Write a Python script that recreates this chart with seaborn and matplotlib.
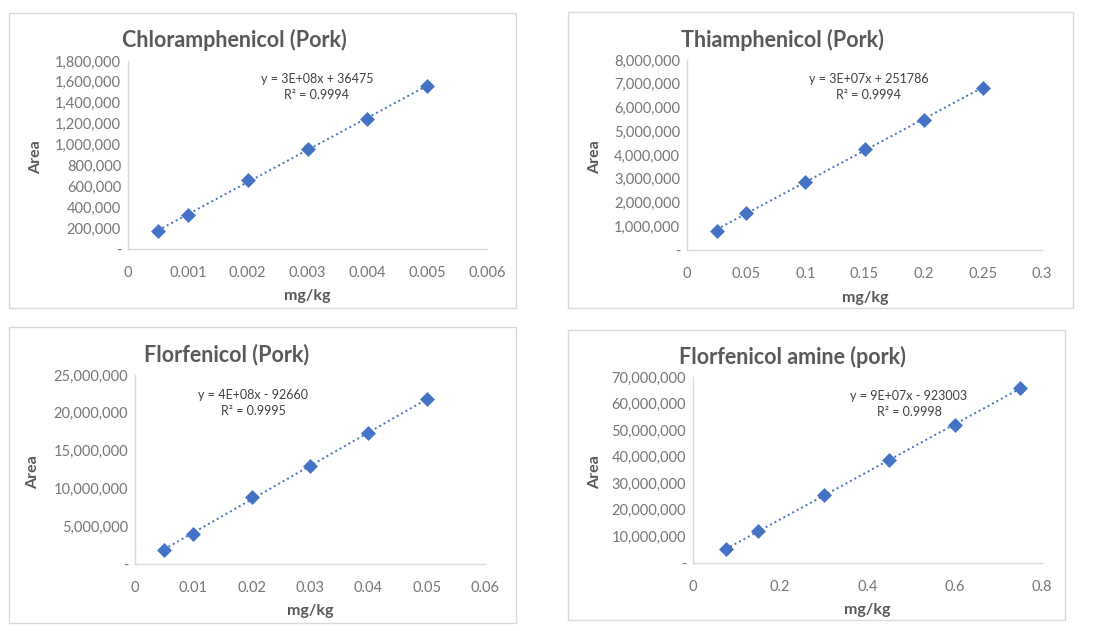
import matplotlib
matplotlib.use("Agg")
import matplotlib.pyplot as plt
from matplotlib.patches import Rectangle
from matplotlib.ticker import FuncFormatter, MultipleLocator
import seaborn as sns
import pandas as pd

sns.set_theme(style="white")
plt.rcParams['font.family'] = ['Lato', 'DejaVu Sans']

W, H = 1107, 631

# ---- data ----
titles = ["Chloramphenicol (Pork)", "Thiamphenicol (Pork)",
          "Florfenicol (Pork)", "Florfenicol amine (pork)"]
equations = ["y = 3E+08x + 36475\nR\u00b2 = 0.9994",
             "y = 3E+07x + 251786\nR\u00b2 = 0.9994",
             "y = 4E+08x - 92660\nR\u00b2 = 0.9995",
             "y = 9E+07x - 923003\nR\u00b2 = 0.9998"]

chl_x = [0.0005, 0.001, 0.002, 0.003, 0.004, 0.005]
chl_y = [169000, 328000, 659000, 956000, 1242000, 1564000]

thi_x = [0.025, 0.05, 0.1, 0.15, 0.2, 0.25]
thi_y = [800000, 1570000, 2880000, 4250000, 5470000, 6840000]

flo_x = [0.005, 0.01, 0.02, 0.03, 0.04, 0.05]
flo_y = [1890000, 4000000, 8890000, 12900000, 17300000, 21800000]

fla_x = [0.075, 0.15, 0.3, 0.45, 0.6, 0.75]
fla_y = [5140000, 11900000, 25700000, 38800000, 51800000, 65900000]

series = [(chl_x, chl_y), (thi_x, thi_y), (flo_x, flo_y), (fla_x, fla_y)]
x_limits = [(0, 0.006, 0.001), (0, 0.3, 0.05), (0, 0.06, 0.01), (0, 0.8, 0.2)]
y_limits = [(0, 1800000, 200000), (0, 8000000, 1000000),
            (0, 25000000, 5000000), (0, 70000000, 10000000)]

# ---- layout (pixels) ----
boxes = [(9, 13, 516, 308), (568, 12, 1073, 308),
         (9, 327, 516, 623), (568, 330, 1065, 620)]
axes_px = [(128, 61, 487, 249), (687, 60, 1042, 250),
           (135, 375, 485, 564), (693, 377, 1042, 563)]
title_pos = [(234, 40), (782, 40), (227, 355), (792, 357)]
eq_pos = [(317, 87), (869, 87), (253, 403), (909, 404)]
ylabel_pos = [(36, 157), (595, 157), (33, 472), (595, 472)]
xlabel_pos = [(307, 296), (865, 298), (310, 611), (867, 610)]

BLUE = "#4472C4"
GREY = "#595959"
TICK = "#767676"
SPINE = "#D9D9D9"

fig = plt.figure(figsize=(W / 100, H / 100), dpi=100)
fig.patch.set_facecolor("white")


def yfmt(v, pos):
    if abs(v) < 1e-9:
        return "-"
    return f"{v:,.0f}"


def xfmt(v, pos):
    if abs(v) < 1e-12:
        return "0"
    return f"{v:.10g}"


for i in range(4):
    x0, y0, x1, y1 = boxes[i]
    fig.patches.append(Rectangle((x0 / W, 1 - y1 / H), (x1 - x0) / W, (y1 - y0) / H,
                                 transform=fig.transFigure, fill=False,
                                 edgecolor=SPINE, linewidth=1.0))
    l, t, r, b = axes_px[i]
    ax = fig.add_axes([l / W, 1 - b / H, (r - l) / W, (b - t) / H])
    xs, ys = series[i]
    df = pd.DataFrame({"x": xs, "y": ys})
    sns.regplot(data=df, x="x", y="y", ax=ax, scatter=False, ci=None,
                line_kws=dict(color=BLUE, linestyle=(0, (1, 1.6)), linewidth=1.4))
    sns.scatterplot(data=df, x="x", y="y", ax=ax, marker="D", s=50,
                    color=BLUE, edgecolor=BLUE, linewidth=0.5, zorder=3)
    xa, xb, xs_ = x_limits[i]
    ya, yb, ys_ = y_limits[i]
    ax.set_xlim(xa, xb)
    ax.set_ylim(ya, yb)
    ax.xaxis.set_major_locator(MultipleLocator(xs_))
    ax.yaxis.set_major_locator(MultipleLocator(ys_))
    ax.xaxis.set_major_formatter(FuncFormatter(xfmt))
    ax.yaxis.set_major_formatter(FuncFormatter(yfmt))
    ax.tick_params(axis="both", length=0, labelsize=10.5, colors=TICK)
    ax.tick_params(axis="x", pad=12)
    ax.tick_params(axis="y", pad=5)
    for s in ["top", "right"]:
        ax.spines[s].set_visible(False)
    for s in ["left", "bottom"]:
        ax.spines[s].set_color(SPINE)
        ax.spines[s].set_linewidth(1.0)
    ax.set_xlabel("")
    ax.set_ylabel("")
    ax.set_facecolor("none")

    tx, ty = title_pos[i]
    fig.text(tx / W, 1 - ty / H, titles[i], ha="center", va="center",
             fontsize=15.5, fontweight="bold", color=GREY)
    ex, ey = eq_pos[i]
    fig.text(ex / W, 1 - ey / H, equations[i], ha="center", va="center",
             fontsize=9, color="#404040", linespacing=1.35)
    lx, ly = ylabel_pos[i]
    fig.text(lx / W, 1 - ly / H, "Area", ha="center", va="center", rotation=90,
             fontsize=11.5, fontweight="bold", color=GREY)
    mx, my = xlabel_pos[i]
    fig.text(mx / W, 1 - my / H, "mg/kg", ha="center", va="center",
             fontsize=11.5, fontweight="bold", color=GREY)

fig.savefig("out.png", dpi=100, facecolor="white")
